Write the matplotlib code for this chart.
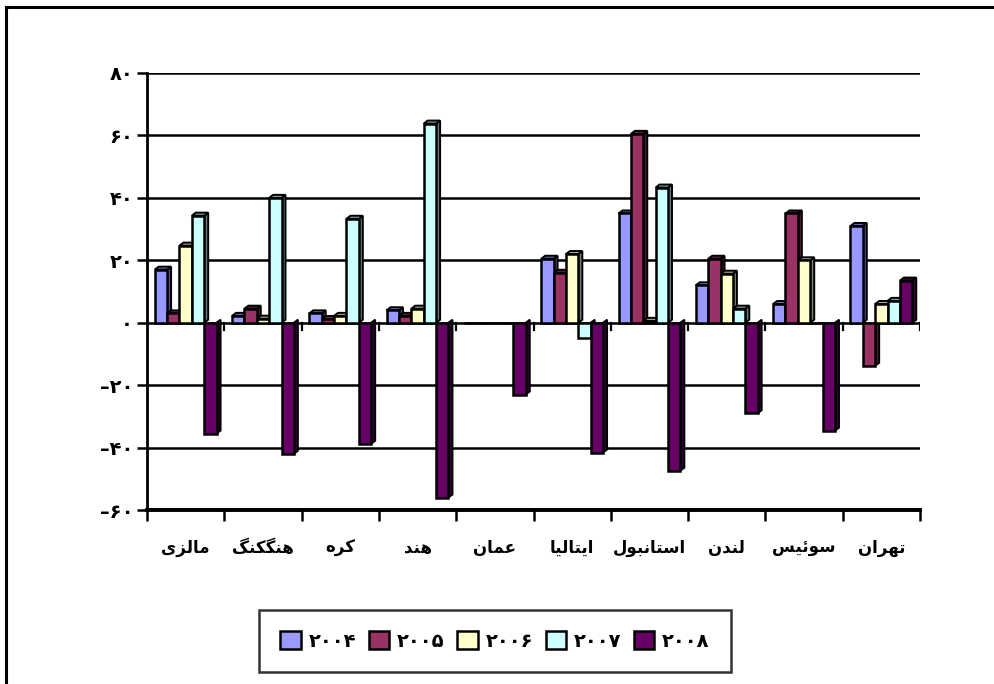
import numpy as np
import matplotlib
matplotlib.use('Agg')
import matplotlib.pyplot as plt
from matplotlib.patches import Polygon, Patch
from matplotlib.lines import Line2D

# cities on the category axis (left to right)
cities = ['مالزی', 'هنگکنگ', 'کره', 'هند', 'عمان', 'ایتالیا', 'استانبول', 'لندن', 'سوئیس', 'تهران']
years = ['۲۰۰۴', '۲۰۰۵', '۲۰۰۶', '۲۰۰۷', '۲۰۰۸']

v2004 = [17, 2.2, 3, 4, 0, 20.5, 35, 12, 6, 31]
v2005 = [3, 4.5, 1.2, 2.2, 0, 16, 60.5, 20.5, 35, -13.8]
v2006 = [24.7, 1.3, 2.2, 4.5, 0, 22, 0.6, 15.7, 20, 6]
v2007 = [34.3, 40, 33.3, 63.8, 0, -4.8, 43.3, 4.5, 0, 7]
v2008 = [-35.5, -42, -38.8, -56, -23, -41.6, -47.4, -29, -34.6, 13.5]

yticks = [80, 60, 40, 20, 0, -20, -40, -60]
ytick_labels = ['۸۰', '۶۰', '۴۰', '۲۰', '۰', '–۲۰', '–۴۰', '–۶۰']

colors = ['#9999FF', '#993366', '#FFFFCC', '#CCFFFF', '#660066']
series = [v2004, v2005, v2006, v2007, v2008]

# matplotlib has no arabic shaping, so pick the presentation forms by hand
PF = {'ا': (0xFE8D, 2), 'ب': (0xFE8F, 4), 'ت': (0xFE95, 4), 'د': (0xFEA9, 2),
      'ر': (0xFEAD, 2), 'ز': (0xFEAF, 2), 'س': (0xFEB1, 4), 'ع': (0xFEC9, 4),
      'ل': (0xFEDD, 4), 'م': (0xFEE1, 4), 'ن': (0xFEE5, 4), 'ه': (0xFEE9, 4),
      'و': (0xFEED, 2), 'ئ': (0xFE89, 4), 'ی': (0xFBFC, 4), 'ک': (0xFB8E, 4),
      'گ': (0xFB92, 4)}


def shape(word):
    out = []
    for i, ch in enumerate(word):
        base, n = PF[ch]
        prev_j = i > 0 and PF[word[i - 1]][1] == 4
        next_j = n == 4 and i < len(word) - 1
        if prev_j and next_j:
            k = 3
        elif prev_j:
            k = 1
        elif next_j:
            k = 2
        else:
            k = 0
        out.append(chr(base + k))
    return ''.join(reversed(out))


def darker(c, f=0.5):
    r, g, b = matplotlib.colors.to_rgb(c)
    return (r * f, g * f, b * f)


W, H = 994, 684
fig = plt.figure(figsize=(W / 100, H / 100), dpi=100)
ax = fig.add_axes([147 / W, 1 - 510 / H, (920 - 147) / W, (510 - 73) / H])
ax.set_xlim(0, 10)
ax.set_ylim(-60, 80)

# gridlines
for y in yticks:
    lw = 2.8 if y == -60 else 1.8
    ax.axhline(y, color='black', lw=lw, zorder=1)

w = 0.16
# pixel depth of the fake 3d faces, in data units
dx = 4 / 77.3
dy = 3 / 3.12
xs = np.arange(10) + 0.5
for j, (vals, col) in enumerate(zip(series, colors)):
    xpos = xs + (j - 2) * w
    ax.bar(xpos, vals, width=w, color=col, edgecolor='black', lw=1.8, zorder=3)
    for x, v in zip(xpos, vals):
        if v == 0:
            continue
        x0, x1 = x - w / 2, x + w / 2
        top = max(v, 0)
        bot = min(v, 0)
        side = Polygon([(x1, bot), (x1 + dx, bot + dy), (x1 + dx, top + dy), (x1, top)],
                       closed=True, fc=darker(col), ec='black', lw=1.4, zorder=2.5)
        ax.add_patch(side)
        if v > 0:
            cap = Polygon([(x0, top), (x0 + dx, top + dy), (x1 + dx, top + dy), (x1, top)],
                          closed=True, fc=darker(col, 0.7), ec='black', lw=1.4, zorder=2.5)
            ax.add_patch(cap)

# small ticks under the zero line at category boundaries
for b in range(1, 11):
    ax.plot([b, b], [0, -2.2], color='black', lw=1.6, zorder=4)

ax.set_yticks(yticks)
ax.set_yticklabels(ytick_labels, fontsize=14, fontweight='bold')
ax.set_xticks(range(11), minor=True)
ax.set_xticks(xs)
ax.set_xticklabels([shape(c) for c in cities], fontsize=12, fontweight='bold')
ax.tick_params(axis='x', which='major', length=0, pad=21)
ax.tick_params(axis='x', which='minor', length=8, width=1.8, direction='out')
ax.tick_params(axis='y', length=7, width=1.8, direction='out', pad=3)
for s in ['top', 'right']:
    ax.spines[s].set_visible(False)
ax.spines['left'].set_linewidth(2)
ax.spines['bottom'].set_linewidth(2.8)

# outer chart frame (runs off the right and bottom edges)
fig.add_artist(Line2D([6 / W, 1.0], [1 - 7 / H, 1 - 7 / H], color='black', lw=2.2))
fig.add_artist(Line2D([6 / W, 6 / W], [1 - 7 / H, 0.0], color='black', lw=2.2))

handles = [Patch(fc=c, ec='black', lw=1.8) for c in colors]
leg = fig.legend(handles, years, loc='center', bbox_to_anchor=(495 / W, 1 - 641 / H),
                 ncol=5, prop={'size': 14, 'weight': 'bold'}, frameon=True,
                 fancybox=False, edgecolor='black', borderpad=1.1,
                 handlelength=1.05, handleheight=1.05, handletextpad=0.4,
                 columnspacing=0.65, borderaxespad=0)
leg.get_frame().set_linewidth(1.8)

fig.savefig('out.png', dpi=100)
